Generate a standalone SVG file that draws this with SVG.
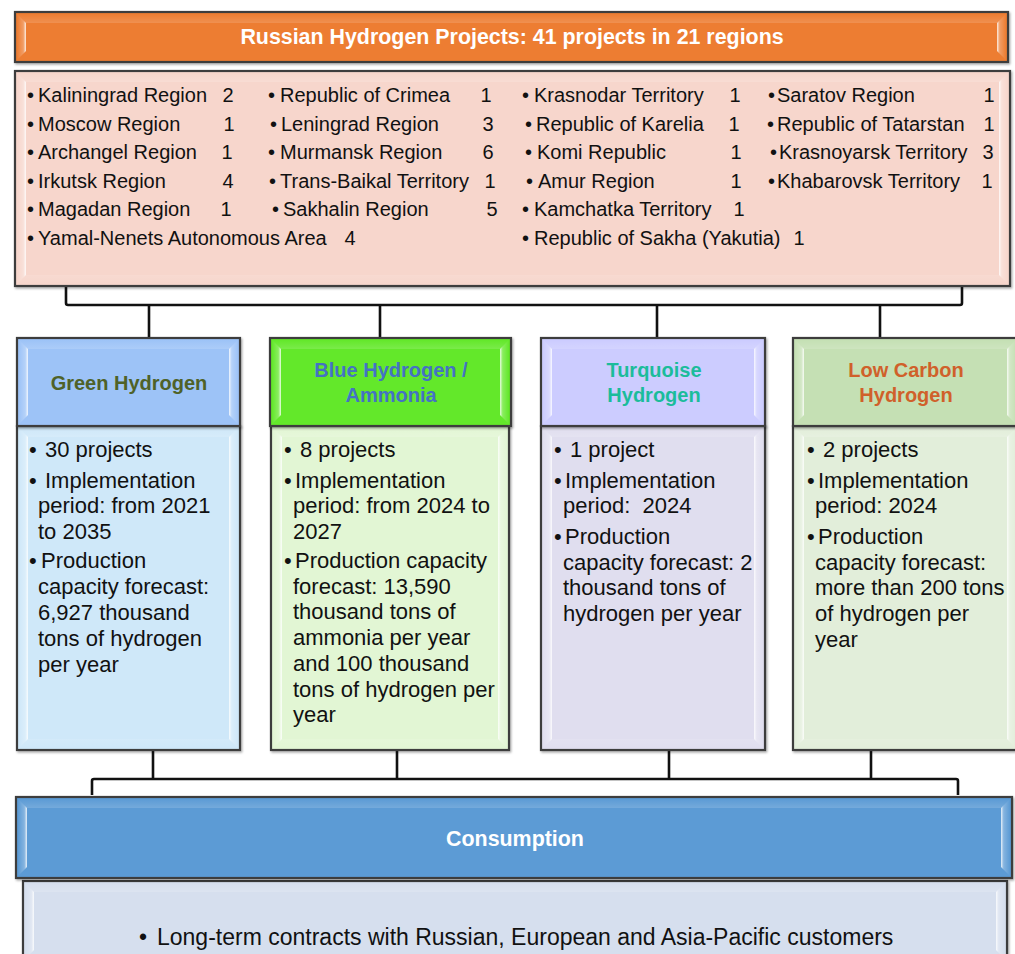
<svg xmlns="http://www.w3.org/2000/svg" width="1015" height="954" viewBox="0 0 1015 954">
  <style>
    text { font-family: "Liberation Sans", Arial, sans-serif; fill: #111; }
    .box { stroke: #3d3d3d; stroke-width: 2.2; }
    .bl { fill: url(#gl); }
    .br { fill: url(#gr); }
    .bt { fill: url(#gt); }
    .bb { fill: url(#gb); }
    .title { font-size: 21.4px; font-weight: bold; fill: #ffffff; text-anchor: middle; }
    .reg { font-size: 20px; }
    .num { font-size: 20px; text-anchor: middle; }
    .hd { font-size: 20px; font-weight: bold; text-anchor: middle; }
    .body { font-size: 22px; }
    .link { fill: none; stroke: #111; stroke-width: 2.6; stroke-linejoin: round; }
  </style>
  <defs>
    <linearGradient id="gl" x1="0" y1="0" x2="1" y2="0">
      <stop offset="0" stop-color="#fff" stop-opacity="0"/>
      <stop offset="0.7" stop-color="#fff" stop-opacity="0.25"/>
      <stop offset="1" stop-color="#fff" stop-opacity="0.85"/>
    </linearGradient>
    <linearGradient id="gr" x1="1" y1="0" x2="0" y2="0">
      <stop offset="0" stop-color="#fff" stop-opacity="0"/>
      <stop offset="0.7" stop-color="#fff" stop-opacity="0.25"/>
      <stop offset="1" stop-color="#fff" stop-opacity="0.85"/>
    </linearGradient>
    <linearGradient id="gt" x1="0" y1="0" x2="0" y2="1">
      <stop offset="0" stop-color="#fff" stop-opacity="0"/>
      <stop offset="1" stop-color="#fff" stop-opacity="0.15"/>
    </linearGradient>
    <linearGradient id="gb" x1="0" y1="1" x2="0" y2="0">
      <stop offset="0" stop-color="#fff" stop-opacity="0"/>
      <stop offset="1" stop-color="#fff" stop-opacity="0.1"/>
    </linearGradient>
    <filter id="sh" x="-5%" y="-5%" width="110%" height="115%">
      <feDropShadow dx="1.2" dy="1.5" stdDeviation="0.8" flood-color="#000" flood-opacity="0.35"/>
    </filter>
  </defs>

  <rect width="1015" height="954" fill="#ffffff"/>

  <!-- connectors -->
  <g id="connectors">
    <path class="link" d="M66,286 V303 Q66,305 68,305 H960 Q962,305 962,303 V286"/>
    <path class="link" d="M149,305 V338 M380,305 V338 M657,305 V338 M880,305 V338"/>
    <path class="link" d="M153,750 V779 M397,750 V779 M669,750 V779 M871,750 V779"/>
    <path class="link" d="M92,795 V781 Q92,779 94,779 H956 Q958,779 958,781 V795"/>
  </g>

  <!-- title banner -->
  <g id="title">
    <rect class="box" x="15" y="12" width="993" height="50" fill="#ED7D31" filter="url(#sh)"/>
    <path class="bl" d="M17,14 l9,9 v28 l-9,9z"/>
    <path class="br" d="M1006,14 l-9,9 v28 l9,9z"/>
    <path class="bt" d="M17,14 h989 l-9,9 h-971z"/>
    <text class="title" x="512" y="44">Russian Hydrogen Projects: 41 projects in 21 regions</text>
  </g>

  <!-- regions list -->
  <g id="regions">
    <rect class="box" x="15" y="71" width="995" height="215" fill="#F7D6CC" filter="url(#sh)"/>
    <path class="bl" d="M17,73 l9,9 v193 l-9,9z"/>
    <path class="br" d="M1008,73 l-9,9 v193 l9,9z"/>
    <path class="bt" d="M17,73 h991 l-9,9 h-973z"/>
    <path class="bb" d="M17,284 h991 l-9,-9 h-973z"/>

    <g class="reg">
      <text class="reg" x="27" y="102">•</text><text class="reg" x="38" y="102">Kaliningrad Region</text><text class="num" x="228" y="102">2</text>
      <text class="reg" x="27" y="131">•</text><text class="reg" x="38" y="131">Moscow Region</text><text class="num" x="229" y="131">1</text>
      <text class="reg" x="27" y="159">•</text><text class="reg" x="38" y="159">Archangel Region</text><text class="num" x="227" y="159">1</text>
      <text class="reg" x="27" y="188">•</text><text class="reg" x="38" y="188">Irkutsk Region</text><text class="num" x="228" y="188">4</text>
      <text class="reg" x="27" y="216">•</text><text class="reg" x="38" y="216">Magadan Region</text><text class="num" x="226" y="216">1</text>
      <text class="reg" x="27" y="245">•</text><text class="reg" x="38" y="245">Yamal-Nenets Autonomous Area</text><text class="num" x="350" y="245">4</text>

      <text class="reg" x="268" y="102">•</text><text class="reg" x="280" y="102">Republic of Crimea</text><text class="num" x="486" y="102">1</text>
      <text class="reg" x="270" y="131">•</text><text class="reg" x="281" y="131">Leningrad Region</text><text class="num" x="488" y="131">3</text>
      <text class="reg" x="268" y="159">•</text><text class="reg" x="280" y="159">Murmansk Region</text><text class="num" x="488" y="159">6</text>
      <text class="reg" x="269" y="188">•</text><text class="reg" x="280" y="188">Trans-Baikal Territory</text><text class="num" x="490" y="188">1</text>
      <text class="reg" x="272" y="216">•</text><text class="reg" x="283" y="216">Sakhalin Region</text><text class="num" x="492" y="216">5</text>

      <text class="reg" x="522" y="102">•</text><text class="reg" x="534" y="102">Krasnodar Territory</text><text class="num" x="735" y="102">1</text>
      <text class="reg" x="525" y="131">•</text><text class="reg" x="536" y="131">Republic of Karelia</text><text class="num" x="734" y="131">1</text>
      <text class="reg" x="525" y="159">•</text><text class="reg" x="537" y="159">Komi Republic</text><text class="num" x="736" y="159">1</text>
      <text class="reg" x="526" y="188">•</text><text class="reg" x="538" y="188">Amur Region</text><text class="num" x="736" y="188">1</text>
      <text class="reg" x="522" y="216">•</text><text class="reg" x="534" y="216">Kamchatka Territory</text><text class="num" x="739" y="216">1</text>
      <text class="reg" x="522" y="245">•</text><text class="reg" x="534" y="245">Republic of Sakha (Yakutia)</text><text class="num" x="799" y="245">1</text>

      <text class="reg" x="768" y="102">•</text><text class="reg" x="777" y="102">Saratov Region</text><text class="num" x="989" y="102">1</text>
      <text class="reg" x="767" y="131">•</text><text class="reg" x="777" y="131">Republic of Tatarstan</text><text class="num" x="989" y="131">1</text>
      <text class="reg" x="770" y="159">•</text><text class="reg" x="779" y="159">Krasnoyarsk Territory</text><text class="num" x="988" y="159">3</text>
      <text class="reg" x="768" y="188">•</text><text class="reg" x="777" y="188">Khabarovsk Territory</text><text class="num" x="987" y="188">1</text>
    </g>
  </g>

  <!-- green hydrogen -->
  <g id="green">
    <rect class="box" x="17" y="426" width="223" height="324" fill="#CFE8F9" filter="url(#sh)"/>
    <path class="bl" d="M19,428 l9,9 v302 l-9,9z"/>
    <path class="br" d="M238,428 l-9,9 v302 l9,9z"/>
    <path class="bt" d="M19,428 h219 l-9,9 h-201z"/>
    <path class="bb" d="M19,748 h219 l-9,-9 h-201z"/>
    <rect class="box" x="17" y="338" width="223" height="88" fill="#9DC3F7" filter="url(#sh)"/>
    <path class="bl" d="M19,340 l9,9 v66 l-9,9z"/>
    <path class="br" d="M238,340 l-9,9 v66 l9,9z"/>
    <path class="bt" d="M19,340 h219 l-9,9 h-201z"/>
    <text class="hd" x="129" y="390" style="fill:#4F6228">Green Hydrogen</text>
    <g class="body">
      <text class="body" x="29" y="457">•</text><text class="body" x="45" y="457">30 projects</text>
      <text class="body" x="29" y="488">•</text><text class="body" x="45" y="488">Implementation</text>
      <text class="body" x="38" y="513">period: from 2021</text>
      <text class="body" x="38" y="539">to 2035</text>
      <text class="body" x="29" y="568">•</text><text class="body" x="41" y="568">Production</text>
      <text class="body" x="38" y="594">capacity forecast:</text>
      <text class="body" x="38" y="620">6,927 thousand</text>
      <text class="body" x="38" y="646">tons of hydrogen</text>
      <text class="body" x="38" y="672">per year</text>
    </g>
  </g>

  <!-- blue hydrogen / ammonia -->
  <g id="blue">
    <rect class="box" x="271" y="426" width="238" height="324" fill="#E2F6D4" filter="url(#sh)"/>
    <path class="bl" d="M273,428 l9,9 v302 l-9,9z"/>
    <path class="br" d="M507,428 l-9,9 v302 l9,9z"/>
    <path class="bt" d="M273,428 h234 l-9,9 h-216z"/>
    <path class="bb" d="M273,748 h234 l-9,-9 h-216z"/>
    <rect class="box" x="270" y="338" width="241" height="88" fill="#63E82B" filter="url(#sh)"/>
    <path class="bl" d="M272,340 l9,9 v66 l-9,9z"/>
    <path class="br" d="M509,340 l-9,9 v66 l9,9z"/>
    <path class="bt" d="M272,340 h237 l-9,9 h-219z"/>
    <text class="hd" x="391" y="377" style="fill:#4472C4">Blue Hydrogen /</text>
    <text class="hd" x="391" y="402" style="fill:#4472C4">Ammonia</text>
    <g class="body">
      <text class="body" x="284" y="457">•</text><text class="body" x="300" y="457">8 projects</text>
      <text class="body" x="284" y="488">•</text><text class="body" x="295" y="488">Implementation</text>
      <text class="body" x="293" y="513">period: from 2024 to</text>
      <text class="body" x="293" y="539">2027</text>
      <text class="body" x="284" y="568">•</text><text class="body" x="295" y="568">Production capacity</text>
      <text class="body" x="293" y="594">forecast: 13,590</text>
      <text class="body" x="293" y="619">thousand tons of</text>
      <text class="body" x="293" y="645">ammonia per year</text>
      <text class="body" x="293" y="671">and 100 thousand</text>
      <text class="body" x="293" y="697">tons of hydrogen per</text>
      <text class="body" x="293" y="722">year</text>
    </g>
  </g>

  <!-- turquoise hydrogen -->
  <g id="turquoise">
    <rect class="box" x="541" y="426" width="224" height="324" fill="#E0DEEF" filter="url(#sh)"/>
    <path class="bl" d="M543,428 l9,9 v302 l-9,9z"/>
    <path class="br" d="M763,428 l-9,9 v302 l9,9z"/>
    <path class="bt" d="M543,428 h220 l-9,9 h-202z"/>
    <path class="bb" d="M543,748 h220 l-9,-9 h-202z"/>
    <rect class="box" x="541" y="338" width="224" height="88" fill="#CCCCFF" filter="url(#sh)"/>
    <path class="bl" d="M543,340 l9,9 v66 l-9,9z"/>
    <path class="br" d="M763,340 l-9,9 v66 l9,9z"/>
    <path class="bt" d="M543,340 h220 l-9,9 h-202z"/>
    <text class="hd" x="654" y="377" style="fill:#1BBC9B">Turquoise</text>
    <text class="hd" x="654" y="402" style="fill:#1BBC9B">Hydrogen</text>
    <g class="body">
      <text class="body" x="554" y="457">•</text><text class="body" x="570" y="457">1 project</text>
      <text class="body" x="554" y="488">•</text><text class="body" x="565" y="488">Implementation</text>
      <text class="body" x="563" y="513" xml:space="preserve">period:  2024</text>
      <text class="body" x="554" y="544">•</text><text class="body" x="565" y="544">Production</text>
      <text class="body" x="563" y="570">capacity forecast: 2</text>
      <text class="body" x="563" y="595">thousand tons of</text>
      <text class="body" x="563" y="621">hydrogen per year</text>
    </g>
  </g>

  <!-- low carbon hydrogen -->
  <g id="lowcarbon">
    <rect class="box" x="793" y="426" width="225" height="324" fill="#E2EEDA" filter="url(#sh)"/>
    <path class="bl" d="M795,428 l9,9 v302 l-9,9z"/>
    <path class="br" d="M1016,428 l-9,9 v302 l9,9z"/>
    <path class="bt" d="M795,428 h221 l-9,9 h-203z"/>
    <path class="bb" d="M795,748 h221 l-9,-9 h-203z"/>
    <rect class="box" x="793" y="338" width="225" height="88" fill="#C5E0B4" filter="url(#sh)"/>
    <path class="bl" d="M795,340 l9,9 v66 l-9,9z"/>
    <path class="br" d="M1016,340 l-9,9 v66 l9,9z"/>
    <path class="bt" d="M795,340 h221 l-9,9 h-203z"/>
    <text class="hd" x="906" y="377" style="fill:#D0602A">Low Carbon</text>
    <text class="hd" x="906" y="402" style="fill:#D0602A">Hydrogen</text>
    <g class="body">
      <text class="body" x="807" y="457">•</text><text class="body" x="823" y="457">2 projects</text>
      <text class="body" x="807" y="488">•</text><text class="body" x="818" y="488">Implementation</text>
      <text class="body" x="815" y="513">period: 2024</text>
      <text class="body" x="807" y="544">•</text><text class="body" x="818" y="544">Production</text>
      <text class="body" x="815" y="570">capacity forecast:</text>
      <text class="body" x="815" y="595">more than 200 tons</text>
      <text class="body" x="815" y="621">of hydrogen per</text>
      <text class="body" x="815" y="647">year</text>
    </g>
  </g>

  <!-- consumption -->
  <g id="consumption">
    <rect class="box" x="23" y="881" width="984" height="90" fill="#D6DFEE" filter="url(#sh)"/>
    <path class="bl" d="M25,883 l9,9 v58 l-9,9z"/>
    <path class="br" d="M1005,883 l-9,9 v58 l9,9z"/>
    <path class="bt" d="M25,883 h980 l-9,9 h-962z"/>
    <rect class="box" x="16" y="797" width="996" height="81" fill="#5B9BD5" filter="url(#sh)"/>
    <path class="bl" d="M18,799 l9,9 v59 l-9,9z"/>
    <path class="br" d="M1010,799 l-9,9 v59 l9,9z"/>
    <path class="bt" d="M18,799 h992 l-9,9 h-974z"/>
    <text class="title" x="515" y="846">Consumption</text>
    <text x="139" y="945" style="font-size:23px">•</text>
    <text x="157" y="945" style="font-size:23px">Long-term contracts with Russian, European and Asia-Pacific customers</text>
  </g>
</svg>
